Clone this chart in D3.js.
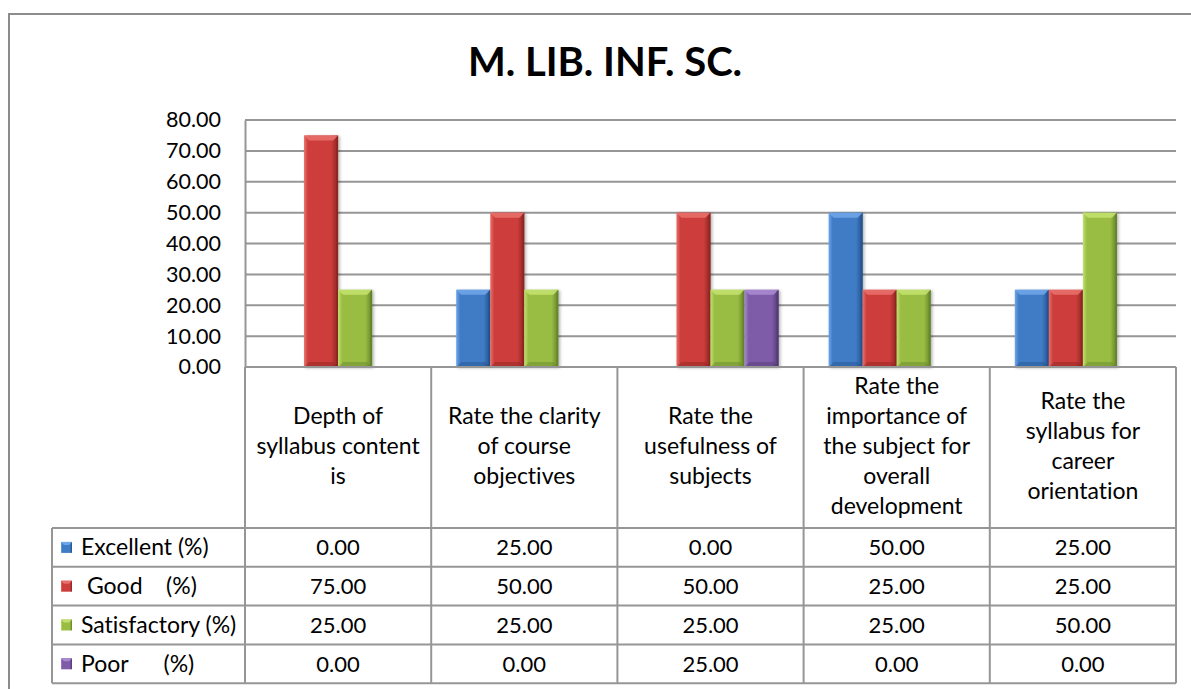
<!DOCTYPE html>
<html>
<head>
<meta charset="utf-8">
<script src="https://cdn.jsdelivr.net/npm/d3@7"></script>
<style>
  html, body { margin: 0; padding: 0; background: #fff; }
  svg { display: block; font-family: Lato, 'Open Sans', sans-serif; font-variant-ligatures: none; }
</style>
</head>
<body>
<div id="chart"></div>
<script>
// Data
const categories = [
  'Depth of\nsyllabus content\nis',
  'Rate the clarity\nof course\nobjectives',
  'Rate the\nusefulness of\nsubjects',
  'Rate the\nimportance of\nthe subject for\noverall\ndevelopment',
  'Rate the\nsyllabus for\ncareer\norientation'
];
const seriesNames = ['Excellent (%)', ' Good    (%)', 'Satisfactory (%)', 'Poor      (%)'];
const excellent = [0, 25, 0, 50, 25];
const good = [75, 50, 50, 25, 25];
const satisfactory = [25, 25, 25, 25, 50];
const poor = [0, 0, 25, 0, 0];
const yTicks = [0, 10, 20, 30, 40, 50, 60, 70, 80];
const title = 'M. LIB. INF. SC.';

const seriesValues = [excellent, good, satisfactory, poor];
const seriesColors = [
  { base: '#3f7cc6', light: '#6fa5e8', dark: '#23508c' },
  { base: '#cc3d3b', light: '#e8706c', dark: '#8c2422' },
  { base: '#99bd43', light: '#c2e06e', dark: '#63822a' },
  { base: '#7e5ca8', light: '#a88ad0', dark: '#4f3872' }
];

const width = 1191, height = 689;
const plotLeft = 245, plotRight = 1176, plotTop = 120, plotBottom = 367;
const tableLeft = 52;
const headerBottom = 528, rowH = 38.8;
const gridColor = '#969696';

const svg = d3.select('#chart').append('svg')
  .attr('width', width)
  .attr('height', height);

// Defs: bar gradients
const defs = svg.append('defs');
seriesColors.forEach((c, i) => {
  const g = defs.append('linearGradient').attr('id', 'grad' + i)
    .attr('x1', 0).attr('x2', 1).attr('y1', 0).attr('y2', 0);
  g.append('stop').attr('offset', '0%').attr('stop-color', c.light);
  g.append('stop').attr('offset', '12%').attr('stop-color', c.base);
  g.append('stop').attr('offset', '80%').attr('stop-color', c.base);
  g.append('stop').attr('offset', '100%').attr('stop-color', c.dark);
});
const shadow = defs.append('filter').attr('id', 'shadow')
  .attr('x', '-20%').attr('y', '-10%').attr('width', '140%').attr('height', '120%');
shadow.append('feDropShadow').attr('dx', 1.5).attr('dy', 1).attr('stdDeviation', 1.5)
  .attr('flood-color', '#000').attr('flood-opacity', 0.3);

// Outer border
svg.append('path')
  .attr('d', `M9,${height + 5}V14H${width + 5}`)
  .attr('fill', 'none')
  .attr('stroke', '#8c8c8c')
  .attr('stroke-width', 2);

// Title
svg.append('text')
  .attr('x', 605)
  .attr('y', 76)
  .attr('text-anchor', 'middle')
  .attr('font-size', 40)
  .attr('font-weight', 'bold')
  .attr('fill', '#000')
  .text(title);

// Scales
const y = d3.scaleLinear().domain([0, 80]).range([plotBottom, plotTop]);
const x0 = d3.scaleBand().domain(d3.range(categories.length)).range([plotLeft, plotRight]);
const slotPad = 25;
const x1 = d3.scaleBand().domain(d3.range(seriesNames.length))
  .range([slotPad, x0.bandwidth() - slotPad]);

// Gridlines
svg.append('g')
  .selectAll('line')
  .data(yTicks)
  .join('line')
  .attr('x1', plotLeft).attr('x2', plotRight)
  .attr('y1', d => y(d)).attr('y2', d => y(d))
  .attr('stroke', gridColor)
  .attr('stroke-width', 2);

// Y axis
const yAxis = svg.append('g')
  .attr('transform', `translate(${plotLeft},0)`)
  .call(d3.axisLeft(y).tickValues(yTicks).tickFormat(d3.format('.2f')).tickSize(0).tickPadding(24));
yAxis.select('.domain').attr('stroke', gridColor).attr('stroke-width', 2);
yAxis.selectAll('text')
  .attr('font-size', 21.5)
  .attr('font-family', 'Lato, sans-serif')
  .attr('fill', '#000');

// Bars
const bars = [];
seriesValues.forEach((vals, si) => {
  vals.forEach((v, ci) => {
    if (v > 0) bars.push({ si, ci, v });
  });
});

const barG = svg.append('g')
  .selectAll('g')
  .data(bars)
  .join('g')
  .attr('filter', 'url(#shadow)');

barG.each(function (d) {
  const g = d3.select(this);
  const bx = x0(d.ci) + x1(d.si);
  const bw = x1.bandwidth();
  const top = y(d.v);
  const bh = plotBottom - top;
  const c = seriesColors[d.si];
  const bev = 5;
  g.append('rect')
    .attr('x', bx).attr('y', top)
    .attr('width', bw).attr('height', bh)
    .attr('fill', `url(#grad${d.si})`);
  // top bevel
  g.append('path')
    .attr('d', `M${bx},${top}H${bx + bw}L${bx + bw - bev},${top + bev}H${bx + bev}Z`)
    .attr('fill', c.light)
    .attr('opacity', 0.9);
  // bottom bevel
  g.append('path')
    .attr('d', `M${bx},${plotBottom}H${bx + bw}L${bx + bw - bev},${plotBottom - bev}H${bx + bev}Z`)
    .attr('fill', c.dark)
    .attr('opacity', 0.45);
  // right edge
  g.append('path')
    .attr('d', `M${bx + bw},${top}V${plotBottom}L${bx + bw - 2},${plotBottom - 2}V${top + 2}Z`)
    .attr('fill', c.dark)
    .attr('opacity', 0.6);
});

// Data table
const table = svg.append('g').attr('stroke', gridColor).attr('stroke-width', 2).attr('fill', 'none');
const tableBottom = headerBottom + rowH * seriesNames.length;

// vertical lines of categories
const colEdges = d3.range(categories.length + 1).map(i => i < categories.length ? x0(i) : plotRight);
table.selectAll('line.v')
  .data(colEdges)
  .join('line')
  .attr('class', 'v')
  .attr('x1', d => d).attr('x2', d => d)
  .attr('y1', plotBottom).attr('y2', tableBottom);
table.append('line')
  .attr('x1', tableLeft).attr('x2', tableLeft)
  .attr('y1', headerBottom).attr('y2', tableBottom);
// horizontal lines
table.append('line')
  .attr('x1', plotLeft).attr('x2', plotRight)
  .attr('y1', plotBottom).attr('y2', plotBottom);
table.selectAll('line.h')
  .data(d3.range(seriesNames.length + 1))
  .join('line')
  .attr('class', 'h')
  .attr('x1', tableLeft).attr('x2', plotRight)
  .attr('y1', i => headerBottom + i * rowH).attr('y2', i => headerBottom + i * rowH);

// Category labels
const lineH = 30;
const headerMid = (plotBottom + headerBottom) / 2;
svg.append('g')
  .selectAll('text')
  .data(categories)
  .join('text')
  .attr('text-anchor', 'middle')
  .attr('font-size', 23)
  .attr('fill', '#000')
  .each(function (d, i) {
    const lines = d.split('\n');
    const cx = x0(i) + x0.bandwidth() / 2;
    const startY = headerMid - (lines.length - 1) * lineH / 2 + 6;
    d3.select(this).selectAll('tspan')
      .data(lines)
      .join('tspan')
      .attr('x', cx)
      .attr('y', (l, j) => startY + j * lineH)
      .text(l => l);
  });

// Legend keys and row labels
const rows = svg.append('g')
  .selectAll('g')
  .data(seriesNames)
  .join('g')
  .attr('transform', (d, i) => `translate(0,${headerBottom + i * rowH})`);

rows.append('rect')
  .attr('x', 61).attr('y', rowH / 2 - 5.5)
  .attr('width', 11).attr('height', 11)
  .attr('fill', (d, i) => `url(#grad${i})`);
rows.append('path')
  .attr('d', `M61,${rowH / 2 - 5.5}h11l-3,3h-5z`)
  .attr('fill', (d, i) => seriesColors[i].light);

rows.append('text')
  .attr('x', 81)
  .attr('y', rowH / 2 + 8)
  .attr('font-size', 23)
  .attr('fill', '#000')
  .style('white-space', 'pre')
  .text(d => d);

// Values in table
rows.each(function (name, si) {
  d3.select(this).selectAll('text.val')
    .data(seriesValues[si])
    .join('text')
    .attr('class', 'val')
    .attr('x', (v, ci) => x0(ci) + x0.bandwidth() / 2)
    .attr('y', rowH / 2 + 8)
    .attr('text-anchor', 'middle')
    .attr('font-size', 22)
    .attr('fill', '#000')
    .text(v => d3.format('.2f')(v));
});
</script>
</body>
</html>
